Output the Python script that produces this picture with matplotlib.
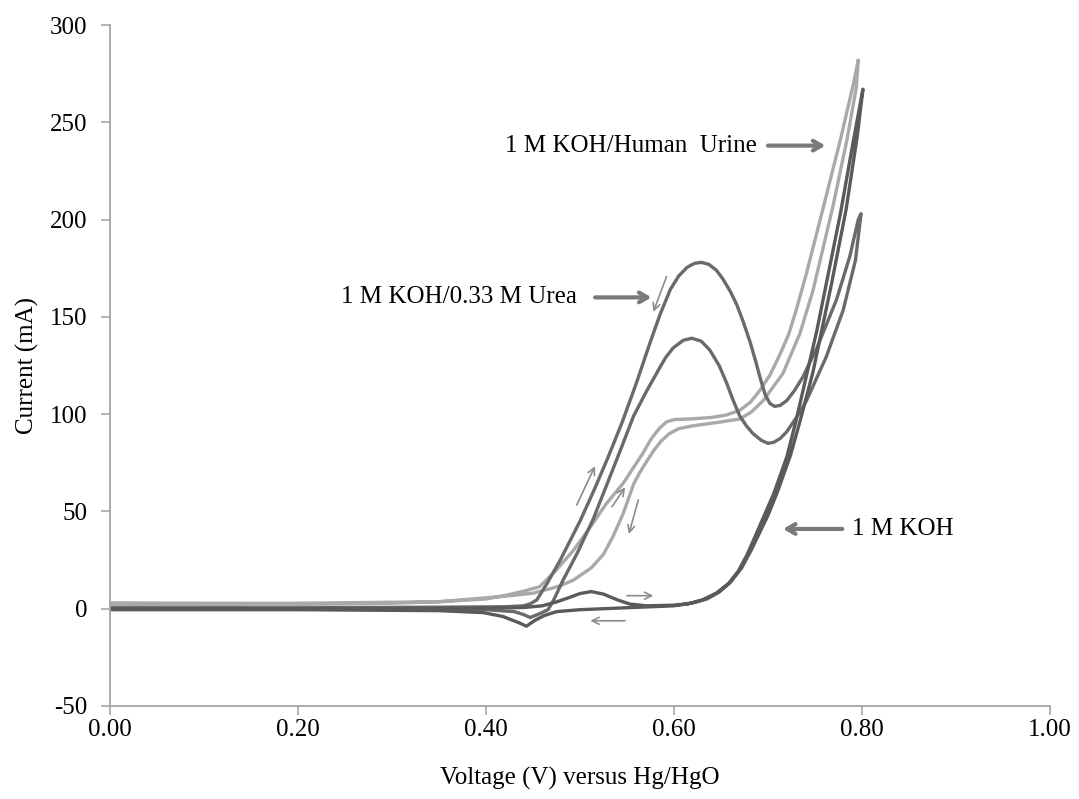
import matplotlib
matplotlib.use("Agg")
import matplotlib.pyplot as plt

# ---------------- data ----------------
# 1 M KOH (forward + reverse scan, in scan order)
koh_v = [0.00, 0.10, 0.20, 0.30, 0.40, 0.44, 0.46, 0.475, 0.49, 0.50, 0.512, 0.525,
         0.54, 0.553, 0.57, 0.60, 0.615, 0.630, 0.645, 0.658, 0.668, 0.678, 0.688,
         0.697, 0.706, 0.720, 0.730, 0.741, 0.752, 0.762, 0.777, 0.791, 0.801,
         0.795, 0.783, 0.768, 0.748, 0.735, 0.724, 0.710, 0.700, 0.692, 0.682,
         0.672, 0.660, 0.648, 0.635, 0.620, 0.600, 0.550, 0.500, 0.475, 0.462,
         0.452, 0.443, 0.436, 0.418, 0.397, 0.350, 0.200, 0.000]
koh_i = [0.0, 0.0, 0.0, 0.2, 0.3, 0.6, 1.5, 3.5, 6.0, 7.8, 8.8, 7.5,
         4.5, 2.4, 1.5, 1.8, 2.5, 4.5, 8.0, 13.0, 19.0, 28.0, 39.0,
         49.0, 59.0, 78.0, 97.0, 120.0, 143.0, 167.0, 203.0, 241.0, 267.0,
         243.0, 205.0, 168.0, 122.0, 98.0, 79.0, 60.0, 48.0, 40.0, 30.0,
         21.0, 13.5, 8.5, 5.0, 3.0, 1.5, 0.5, -0.5, -1.5, -3.5,
         -6.0, -9.0, -7.4, -4.0, -2.0, -1.0, -0.5, -0.5]

# 1 M KOH / 0.33 M Urea
urea_v = [0.00, 0.20, 0.35, 0.42, 0.44, 0.447, 0.454, 0.465, 0.479, 0.500, 0.515,
          0.530, 0.545, 0.560, 0.574, 0.585, 0.596, 0.605, 0.614, 0.622, 0.629,
          0.637, 0.645, 0.652, 0.660, 0.667, 0.674, 0.681, 0.687, 0.692, 0.697,
          0.702, 0.707, 0.713, 0.720, 0.728, 0.737, 0.752, 0.773, 0.787, 0.796, 0.799,
          0.793, 0.780, 0.762, 0.741, 0.734, 0.727, 0.720, 0.713, 0.706, 0.700,
          0.693, 0.684, 0.677, 0.670, 0.663, 0.656, 0.648, 0.638, 0.629, 0.619,
          0.610, 0.599, 0.591, 0.585, 0.578, 0.571, 0.557, 0.545, 0.532, 0.514,
          0.497, 0.482, 0.472, 0.466, 0.455, 0.447, 0.440, 0.430, 0.400, 0.200, 0.000]
urea_i = [0.5, 0.5, 0.8, 1.0, 1.5, 2.5, 4.5, 13.0, 25.0, 45.0, 61.0,
          78.0, 96.0, 116.0, 136.0, 151.0, 164.0, 171.0, 175.5, 177.5, 178.0,
          177.0, 174.0, 169.5, 163.0, 156.0, 147.0, 137.0, 127.0, 118.0, 110.0,
          105.5, 104.0, 104.5, 107.0, 112.0, 119.0, 134.0, 159.0, 181.0, 200.0, 203.0,
          179.0, 153.5, 129.5, 107.0, 101.0, 96.0, 91.0, 87.5, 85.5, 85.0,
          86.5, 90.0, 94.0, 99.0, 107.0, 116.0, 125.0, 133.0, 137.5, 139.0,
          138.0, 134.0, 129.0, 124.0, 118.0, 112.0, 99.0, 84.0, 68.0, 46.0,
          28.5, 14.7, 4.5, -0.5, -3.0, -4.5, -3.0, -1.5, -0.5, -0.3, -0.3]

# 1 M KOH / Human Urine
urine_v = [0.00, 0.10, 0.20, 0.30, 0.351, 0.40, 0.422, 0.44, 0.457, 0.475, 0.493,
           0.511, 0.528, 0.546, 0.567, 0.576, 0.585, 0.592, 0.600, 0.620, 0.640,
           0.655, 0.670, 0.681, 0.691, 0.702, 0.713, 0.722, 0.730, 0.741, 0.759,
           0.777, 0.791, 0.796,
           0.794, 0.784, 0.769, 0.748, 0.734, 0.716, 0.695, 0.682, 0.670, 0.650,
           0.635, 0.620, 0.605, 0.595, 0.586, 0.578, 0.570, 0.563, 0.557, 0.546,
           0.535, 0.525, 0.512, 0.493, 0.480, 0.470, 0.450, 0.422, 0.350, 0.200,
           0.100, 0.000]
urine_i = [2.0, 2.0, 2.2, 2.8, 3.6, 5.0, 7.0, 9.0, 11.3, 20.0, 30.0,
           42.0, 54.0, 64.5, 80.0, 87.5, 93.0, 96.0, 97.2, 97.6, 98.3,
           99.5, 102.0, 106.0, 112.0, 120.0, 131.0, 141.0, 153.5, 172.5, 206.6,
           241.0, 270.0, 282.0,
           268.0, 241.0, 206.6, 163.8, 141.5, 121.0, 107.0, 101.0, 97.5, 96.0,
           95.0, 94.0, 92.5, 90.0, 86.0, 81.0, 75.0, 69.5, 64.0, 49.0,
           37.0, 28.0, 21.0, 14.7, 12.0, 10.5, 8.0, 6.5, 3.6, 2.8,
           2.8, 3.0]

x_ticks = [0.0, 0.2, 0.4, 0.6, 0.8, 1.0]
x_tick_labels = ["0.00", "0.20", "0.40", "0.60", "0.80", "1.00"]
y_ticks = [-50, 0, 50, 100, 150, 200, 250, 300]
y_tick_labels = ["-50", "0", "50", "100", "150", "200", "250", "300"]

# labels: (text, text anchor x, y, arrow tail x, arrow head x)
label_urine = ("1 M KOH/Human  Urine", 0.688, 238.0, 0.700, 0.761)
label_urea = ("1 M KOH/0.33 M Urea", 0.497, 160.0, 0.516, 0.576)
label_koh = ("1 M KOH", 0.789, 41.0, 0.779, 0.716)

# small scan-direction arrows: (tail x, tail y, head x, head y)
scan_arrows = [
    (0.592, 170.6, 0.578, 152.6),
    (0.4965, 53.3, 0.516, 73.3),
    (0.534, 52.4, 0.548, 62.4),
    (0.562, 55.9, 0.552, 38.4),
    (0.550, 6.7, 0.578, 6.7),
    (0.548, -6.2, 0.511, -6.2),
]

# ---------------- drawing ----------------
plt.rcParams["font.family"] = ["Liberation Serif", "DejaVu Serif"]

fig = plt.figure(figsize=(10.79, 7.99), dpi=100)
ax = fig.add_axes([110 / 1079, 1 - 706 / 799, 940 / 1079, 681 / 799])

ax.plot(urine_v, urine_i, color="#a9a9a9", lw=2.4, solid_joinstyle="round")
ax.plot(urea_v, urea_i, color="#6a6a6a", lw=2.4, solid_joinstyle="round")
ax.plot(koh_v, koh_i, color="#5a5a5a", lw=2.4, solid_joinstyle="round")

ax.set_xlim(0, 1.0)
ax.set_ylim(-50, 300)
ax.set_xticks(x_ticks)
ax.set_xticklabels(x_tick_labels)
ax.set_yticks(y_ticks)
ax.set_yticklabels(y_tick_labels)

for s in ("top", "right"):
    ax.spines[s].set_visible(False)
for s in ("left", "bottom"):
    ax.spines[s].set_color("#a6a6a6")
    ax.spines[s].set_linewidth(1.3)

ax.tick_params(axis="both", direction="out", length=6.5, width=1.2,
               color="#a6a6a6", labelsize=18, labelcolor="black")
ax.tick_params(axis="x", pad=3)
ax.tick_params(axis="y", pad=10)

ax.set_xlabel("Voltage (V) versus Hg/HgO", fontsize=18)
ax.xaxis.set_label_coords(0.5, -(778 - 706) / 681)
ax.xaxis.label.set_va("center")
ax.set_ylabel("Current (mA)", fontsize=18)
ax.yaxis.set_label_coords((27 - 110) / 940, 0.5)
ax.yaxis.label.set_va("center")

arrow_big = dict(arrowstyle="->,head_length=0.6,head_width=0.35", lw=3,
                 color="#7a7a7a", shrinkA=0, shrinkB=0)
for txt, tx, ty, ax0, ax1 in (label_urine, label_urea):
    ax.text(tx, ty, txt, ha="right", va="center", fontsize=18)
    ax.annotate("", xy=(ax1, ty), xytext=(ax0, ty), arrowprops=arrow_big)
txt, tx, ty, ax0, ax1 = label_koh
ax.text(tx, ty, txt, ha="left", va="center", fontsize=18)
ax.annotate("", xy=(ax1, ty), xytext=(ax0, ty), arrowprops=arrow_big)

arrow_small = dict(arrowstyle="->,head_length=0.5,head_width=0.25", lw=1.2,
                   color="#8c8c8c", shrinkA=0, shrinkB=0)
for x0, y0, x1, y1 in scan_arrows:
    ax.annotate("", xy=(x1, y1), xytext=(x0, y0), arrowprops=arrow_small)

fig.savefig("out.png", dpi=100)
